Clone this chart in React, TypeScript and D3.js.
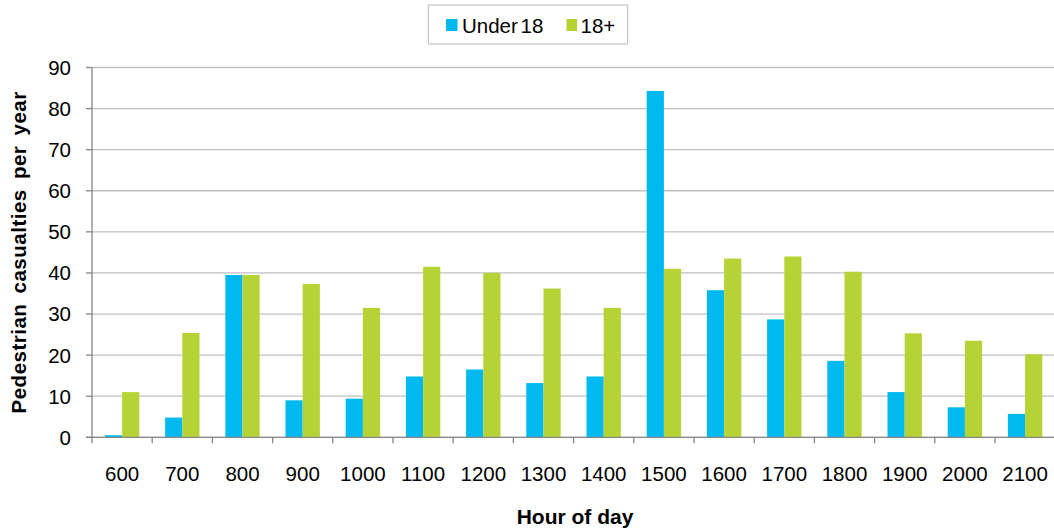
import React from "react";
import * as d3 from "d3";

const hours = ["600", "700", "800", "900", "1000", "1100", "1200", "1300", "1400", "1500", "1600", "1700", "1800", "1900", "2000", "2100"];
const under18 = [0.5, 4.8, 39.5, 9.0, 9.4, 14.8, 16.5, 13.2, 14.8, 84.3, 35.8, 28.7, 18.6, 11.0, 7.3, 5.7];
const adults = [11.0, 25.4, 39.5, 37.3, 31.5, 41.5, 40.0, 36.2, 31.5, 41.0, 43.5, 44.0, 40.3, 25.3, 23.5, 20.2];
const yTicks = [0, 10, 20, 30, 40, 50, 60, 70, 80, 90];
const seriesNames = ["Under 18", "18+"];

const W = 1054;
const H = 531;
const margin = { left: 92, right: 0, top: 67.5, bottom: 93.7 };
const colors = ["#00B9F1", "#B5D334"];
const font = "'Liberation Sans', Arial, sans-serif";
const fs = 20.5;

export default function App() {
  const x = d3
    .scaleBand<string>()
    .domain(hours)
    .range([margin.left, margin.left + 60.2 * hours.length]);
  const y = d3
    .scaleLinear()
    .domain([0, 90])
    .range([H - margin.bottom, margin.top]);

  const bw = x.bandwidth();
  const barW = 17.2;
  const groupOff = (bw - barW * 2) / 2;
  const bottom = y(0);
  const right = W;

  const series = [under18, adults];

  return (
    <svg
      width={W}
      height={H}
      style={{ position: "absolute", left: 0, top: 0, background: "#fff" }}
      fontFamily={font}
    >
      {/* grid */}
      {yTicks.map((t) => (
        <line key={t} x1={margin.left} x2={right} y1={y(t)} y2={y(t)} stroke="#c0c0c0" strokeWidth={1.3} />
      ))}
      {/* bars */}
      {series.map((vals, si) =>
        vals.map((v, i) => (
          <rect
            key={si + "-" + i}
            x={(x(hours[i]) ?? 0) + groupOff + si * barW}
            y={y(v)}
            width={barW}
            height={bottom - y(v)}
            fill={colors[si]}
          />
        ))
      )}
      {/* axes */}
      <line x1={margin.left} x2={margin.left} y1={margin.top} y2={bottom + 6} stroke="#868686" strokeWidth={1.3} />
      <line x1={margin.left - 6} x2={right} y1={bottom} y2={bottom} stroke="#868686" strokeWidth={1.3} />
      {yTicks.map((t) => (
        <g key={"yt" + t}>
          <line x1={margin.left - 6} x2={margin.left} y1={y(t)} y2={y(t)} stroke="#868686" strokeWidth={1.3} />
          <text x={71} y={y(t)} dy="0.36em" textAnchor="end" fontSize={fs} fill="#000">
            {t}
          </text>
        </g>
      ))}
      {hours.map((h, i) => (
        <g key={"xt" + h}>
          {i > 0 && (
            <line
              x1={x(h) ?? 0}
              x2={x(h) ?? 0}
              y1={bottom}
              y2={bottom + 6}
              stroke="#868686"
              strokeWidth={1.3}
            />
          )}
          <text x={(x(h) ?? 0) + bw / 2} y={481} textAnchor="middle" fontSize={fs} fill="#000">
            {h}
          </text>
        </g>
      ))}
      {/* titles */}
      <text
        transform={`translate(26, ${(margin.top + bottom) / 2}) rotate(-90)`}
        textAnchor="middle"
        fontSize={20.5}
        fontWeight="bold"
        fill="#000"
        wordSpacing={4}
        letterSpacing={0.5}
      >
        Pedestrian casualties per year
      </text>
      <text x={575} y={524} textAnchor="middle" fontSize={21} fontWeight="bold" fill="#000">
        Hour of day
      </text>
      {/* legend */}
      <rect x={428.5} y={5} width={199} height={39} fill="#fff" stroke="#c8c8c8" strokeWidth={1.3} />
      <rect x={446} y={19} width={11.5} height={12} fill={colors[0]} />
      <text x={462} y={32.5} fontSize={fs} fill="#000" wordSpacing={-3}>
        {seriesNames[0]}
      </text>
      <rect x={566.5} y={19} width={10.5} height={12} fill={colors[1]} />
      <text x={580.5} y={32.5} fontSize={fs} fill="#000">
        {seriesNames[1]}
      </text>
    </svg>
  );
}
